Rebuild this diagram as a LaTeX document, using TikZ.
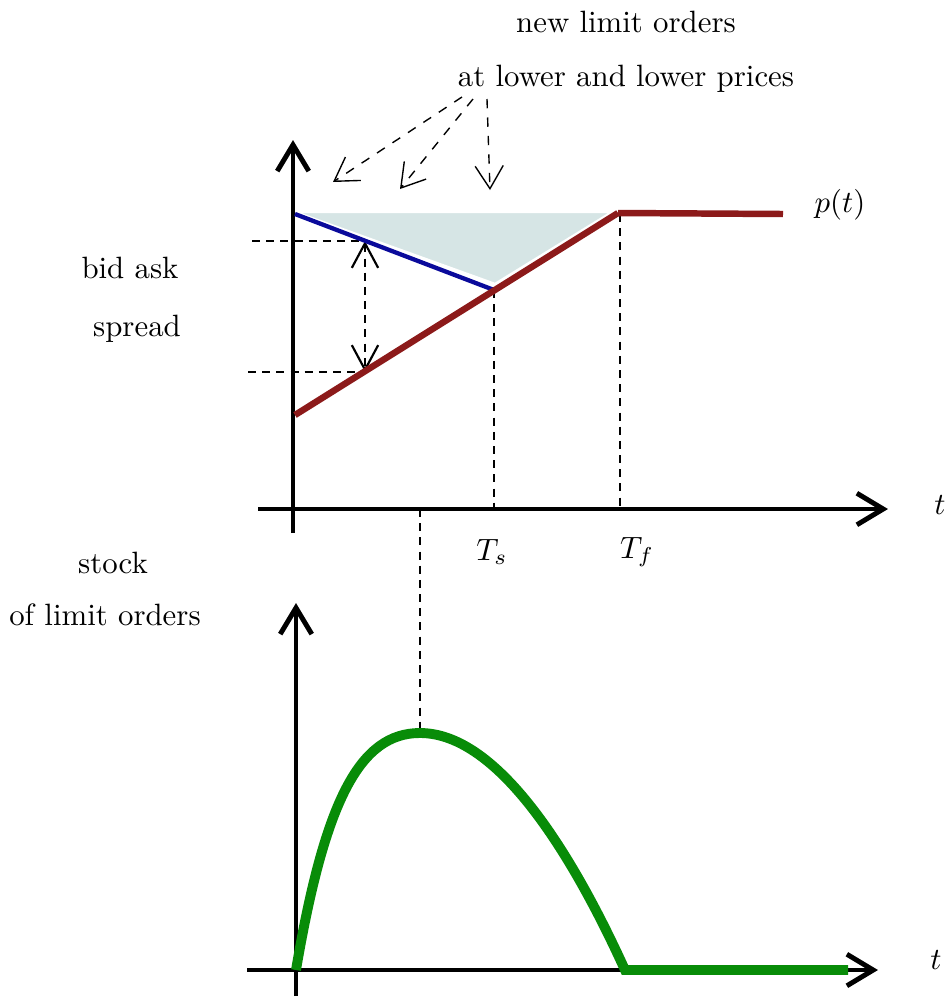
\documentclass[tikz,border=0pt]{standalone}
\usetikzlibrary{arrows.meta}
\definecolor{pricered}{RGB}{140,26,26}
\definecolor{bidblue}{RGB}{10,10,155}
\definecolor{stockgreen}{RGB}{8,140,8}
\definecolor{gapshade}{RGB}{214,229,229}

\begin{document}
\begin{tikzpicture}[x=0.114mm, y=-0.114mm,
  axis/.style={line width=1.6pt, -{Straight Barb[length=3mm, width=3.6mm]}},
  guide/.style={dash pattern=on 2.6pt off 2pt, line width=0.7pt},
  spread/.style={guide, {Straight Barb[length=2.8mm, width=3mm]}-{Straight Barb[length=2.8mm, width=3mm]}},
  hint/.style={dash pattern=on 3pt off 3pt, line width=0.45pt, -{Straight Barb[length=2.6mm, width=3.2mm]}},
  lbl/.style={inner sep=1pt}]

\useasboundingbox (0,0) rectangle (949,998);

% price panel
\coordinate (O1) at (293,509);
\coordinate (A0) at (295,415);
\coordinate (Tf) at (618,213);
\coordinate (pend) at (783,214);
\coordinate (B0) at (295,214);
\coordinate (Ts) at (494,290);
\coordinate (bid) at (365,241);
\coordinate (ask) at (365,372);

\fill[gapshade, draw=white, line width=0.8pt] (295,212) -- (612,212) -- (495,284) -- cycle;

\draw[axis] (293,533) -- (293,140);
\draw[axis] (258,509) -- (888,509);

\draw[guide] (252,241) -- (bid);
\draw[guide] (248,372) -- (ask);
\draw[spread] (bid) -- (ask);
\draw[guide] (Ts) -- (494,509);
\draw[guide] (620,214) -- (620,509);

\draw[bidblue, line width=1.4pt] (B0) -- (Ts);
\draw[pricered, line width=2.1pt] (A0) -- (Tf);
\draw[pricered, line width=2.1pt] (Tf) -- (pend);

\node[lbl] (ptl) at (840,205) {$p(t)$};
\node[lbl] (t1) at (940,505) {$t$};
\node[lbl] (tsl) at (492,552) {$T_s$};
\node[lbl] (tfl) at (637,552) {$T_f$};

\node[lbl] (bidask) at (130,268) {bid ask};
\node[lbl] (spr) at (137,329) {spread};

\node[lbl] (newlim) at (626,22) {new limit orders};
\node[lbl] (lower) at (626,79) {at lower and lower prices};

\coordinate (h1) at (462,97);
\coordinate (h2) at (473,99);
\coordinate (h3) at (487,99);
\draw[hint] (h1) -- (333,182);
\draw[hint] (h2) -- (400,189);
\draw[hint] (h3) -- (490,190);

% stock panel
\coordinate (O2) at (296,970);
\coordinate (peak) at (420,733);
\coordinate (gdrop) at (625,970);
\coordinate (gend) at (848,970);

\draw[guide] (420,509) -- (peak);

\draw[axis] (296,996) -- (296,603);
\draw[axis] (247,970) -- (878,970);

\draw[stockgreen, line width=3.2pt] (O2) .. controls (325,800) and (360,733) .. (peak)
  .. controls (500,733) and (575,860) .. (gdrop) -- (gend);

\node[lbl] (t2) at (936,960) {$t$};
\node[lbl] (stock) at (113,563) {stock};
\node[lbl] (oflim) at (105,615) {of limit orders};

\end{tikzpicture}
\end{document}
